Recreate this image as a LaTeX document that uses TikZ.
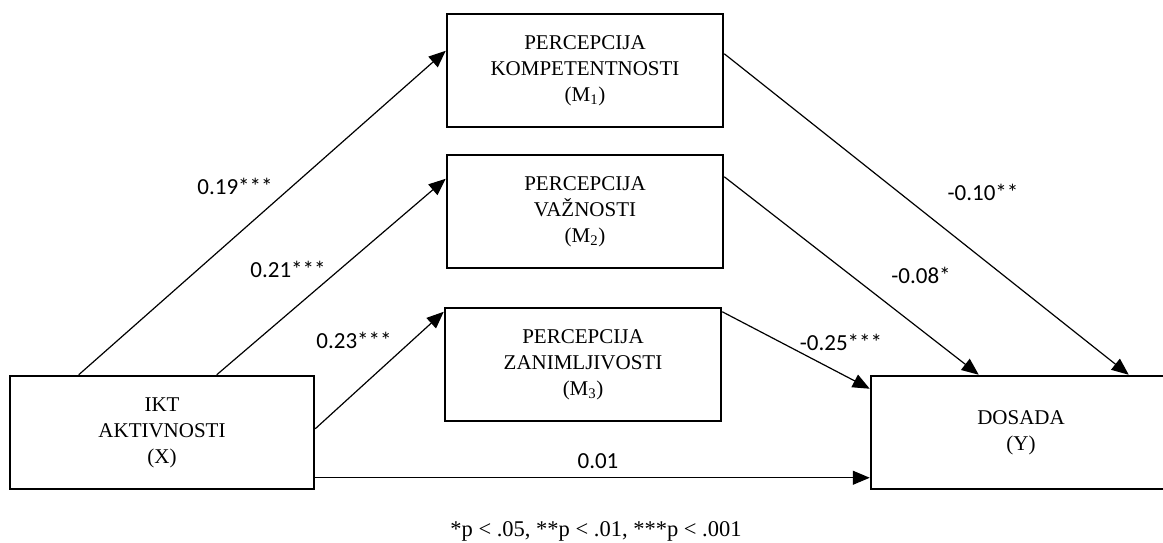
\documentclass[tikz,border=0pt]{standalone}
\usepackage{fontspec}
\setmainfont{Liberation Serif}
\newfontfamily\coeffont{Carlito}
\usetikzlibrary{arrows.meta}

\begin{document}
\begin{tikzpicture}[x=1pt, y=-1pt, >={Triangle[length=17pt, width=14pt]}, line width=1.2pt,
	varbox/.style={draw, line width=2.5pt, minimum height=113pt, align=center, font=\fontsize{21}{26}\selectfont},
	coef/.style={font=\coeffont\fontsize{23}{27}\selectfont}]
		\useasboundingbox (0,0) rectangle (1163,542);

		% Nodes
		\node[varbox, minimum width=304pt] (ikt) at (162,432.5) {IKT\\AKTIVNOSTI\\(X)};
		\node[varbox, minimum width=276pt] (m1) at (585,70.5) {PERCEPCIJA\\KOMPETENTNOSTI\\(M\textsubscript{1})};
		\node[varbox, minimum width=276pt] (m2) at (585,211.5) {PERCEPCIJA\\VAŽNOSTI\\(M\textsubscript{2})};
		\node[varbox, minimum width=276pt] (m3) at (583,364.5) {PERCEPCIJA\\ZANIMLJIVOSTI\\(M\textsubscript{3})};
		\node[varbox, minimum width=300pt] (dosada) at (1021,432.5) {DOSADA\\(Y)};

		% Paths from X to the mediators
		\draw[->] ([xshift=70pt]ikt.north west) -- ([yshift=-38pt]m1.north west);
		\draw[->] ([xshift=208pt]ikt.north west) -- ([yshift=-25pt]m2.north west);
		\draw[->] ([yshift=-54pt]ikt.north east) -- ([yshift=-5pt]m3.north west);

		% Paths from the mediators to Y
		\draw[->] ([yshift=-41pt]m1.north east) -- ([xshift=259pt]dosada.north west);
		\draw[->] ([yshift=-23pt]m2.north east) -- ([xshift=109pt]dosada.north west);
		\draw[->] ([yshift=-5pt]m3.north east) -- ([yshift=-14pt]dosada.north west);

		% Direct path
		\draw[->] ([yshift=-103pt]ikt.north east) -- ([yshift=-103pt]dosada.north west);

		% Coefficients
		\node[coef] (a1) at (235,186) {0.19***};
		\node[coef] (a2) at (288,269) {0.21***};
		\node[coef] (a3) at (354,340) {0.23***};
		\node[coef] (b1) at (983,192) {-0.10**};
		\node[coef] (b2) at (921,275) {-0.08*};
		\node[coef] (b3) at (841,342) {-0.25***};
		\node[coef] (c) at (598,461) {0.01};

		% Note
		\node[font=\fontsize{22.5}{26}\selectfont, anchor=base] (note) at (596,536) {*p < .05, **p < .01, ***p < .001};
	\end{tikzpicture}
\end{document}
